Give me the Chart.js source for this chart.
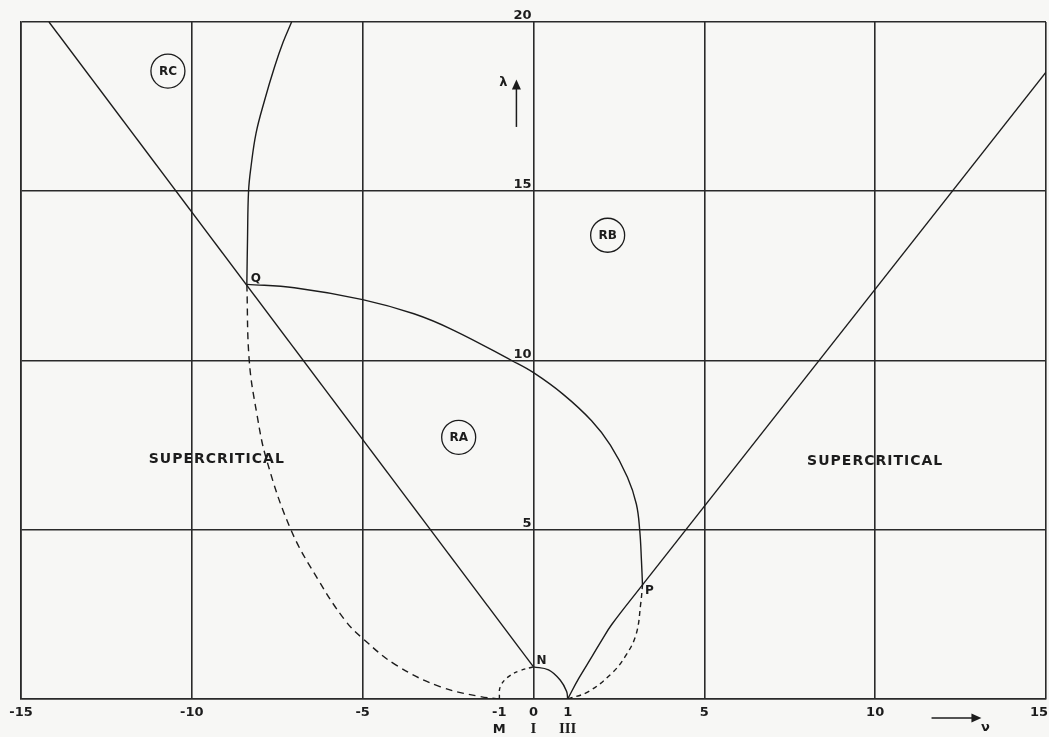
<!DOCTYPE html>
<html>
<head>
<meta charset="utf-8">
<script src="https://cdn.jsdelivr.net/npm/chart.js@4.4.1/dist/chart.umd.min.js"></script>
<style>
  html, body { margin: 0; padding: 0; background: #f7f7f5; }
  #wrap { width: 1049px; height: 737px; }
</style>
</head>
<body>
<div id="wrap"><canvas id="myChart" width="1049" height="737"></canvas></div>
<script>
// tick labels
const vTicks = [-15, -10, -5, -1, 0, 1, 5, 10, 15];
const lambdaTicks = [5, 10, 15, 20];
const rootTicks = [-1, 0, 1];
const rootNames = ['M', 'I', 'III'];

// boundary curves (v, λ)
const lineNQ_v = [-14.18, 0];
const lineNQ_l = [20, 0.95];

const upperQ_v = [-8.39, -8.37, -8.34, -8.27, -8.12, -7.87, -7.58, -7.33, -7.08];
const upperQ_l = [12.25, 13.6, 15.0, 15.71, 16.72, 17.69, 18.67, 19.4, 20.0];

const arcQP_v = [-8.39, -7.0, -5.0, -3.5, -2.35, -0.64, 0, 0.87, 1.7, 2.25, 2.75, 3.01, 3.11, 3.16, 3.19];
const arcQP_l = [12.25, 12.15, 11.8, 11.38, 10.9, 10.0, 9.64, 9.0, 8.22, 7.5, 6.55, 5.76, 4.97, 4.08, 3.37];

const dashQM_v = [-8.39, -8.32, -8.10, -7.81, -7.10, -6.30, -5.52, -5.0, -4.02, -2.72, -1.55, -1.0];
const dashQM_l = [12.25, 10.0, 8.44, 7.06, 5.0, 3.52, 2.33, 1.79, 1.0, 0.36, 0.07, 0];

const dotMN_v = [-1.0, -0.97, -0.73, -0.39, 0];
const dotMN_l = [0, 0.37, 0.66, 0.84, 0.95];

const arcN1_v = [0, 0.44, 0.78, 0.97, 1.0];
const arcN1_l = [0.95, 0.86, 0.56, 0.22, 0];

const curve1P_v = [1.0, 1.32, 1.71, 2.0, 2.29, 3.19];
const curve1P_l = [0, 0.6, 1.25, 1.74, 2.2, 3.37];

const lineP_v = [3.19, 15.0];
const lineP_l = [3.37, 18.52];

const dash1P_v = [1.0, 1.61, 2.29, 2.68, 3.0, 3.14, 3.19];
const dash1P_l = [0, 0.22, 0.76, 1.25, 1.9, 2.83, 3.37];

// region and point labels
const regionNames = ['RC', 'RB', 'RA'];
const regionV = [-10.7, 2.17, -2.19];
const regionL = [18.55, 13.7, 7.73];

const zoneNames = ['SUPERCRITICAL', 'SUPERCRITICAL'];
const zoneV = [-9.27, 10.0];
const zoneL = [7.09, 7.03];

const pointNames = ['Q', 'P', 'N'];
const pointV = [-8.39, 3.19, 0];
const pointL = [12.25, 3.37, 0.95];
const pointOffset = [[9, -5], [7, 6], [8, -6]];

const ink = '#1c1c1c';
const paper = '#f7f7f5';

const pts = (vs, ls) => vs.map((v, i) => ({ x: v, y: ls[i] }));

const curves = [
  { v: lineNQ_v, l: lineNQ_l, dash: [], smooth: false },
  { v: upperQ_v, l: upperQ_l, dash: [], smooth: true },
  { v: arcQP_v, l: arcQP_l, dash: [], smooth: true },
  { v: dashQM_v, l: dashQM_l, dash: [7, 5], smooth: true },
  { v: dotMN_v, l: dotMN_l, dash: [4, 4], smooth: true },
  { v: arcN1_v, l: arcN1_l, dash: [], smooth: true },
  { v: curve1P_v, l: curve1P_l, dash: [], smooth: true },
  { v: lineP_v, l: lineP_l, dash: [], smooth: false },
  { v: dash1P_v, l: dash1P_l, dash: [5, 4], smooth: true }
];

const datasets = curves.map(c => ({
  data: pts(c.v, c.l),
  showLine: true,
  pointRadius: 0,
  borderColor: ink,
  borderWidth: 1.4,
  borderDash: c.dash,
  fill: false,
  tension: c.smooth ? 0.4 : 0
}));

const paperPlugin = {
  id: 'paper',
  beforeDraw(chart) {
    const ctx = chart.ctx;
    ctx.save();
    ctx.fillStyle = paper;
    ctx.fillRect(0, 0, chart.width, chart.height);
    ctx.restore();
  }
};

function arrowHead(ctx, tx, ty, dx, dy) {
  // filled triangle pointing along (dx, dy)
  const len = 10, half = 4.5;
  const bx = tx - dx * len, by = ty - dy * len;
  ctx.beginPath();
  ctx.moveTo(tx, ty);
  ctx.lineTo(bx - dy * half, by + dx * half);
  ctx.lineTo(bx + dy * half, by - dx * half);
  ctx.closePath();
  ctx.fill();
}

const labelsPlugin = {
  id: 'labels',
  afterDraw(chart) {
    const { ctx, chartArea } = chart;
    const x = chart.scales.x, y = chart.scales.y;
    ctx.save();
    ctx.fillStyle = ink;
    ctx.strokeStyle = ink;

    // λ ticks beside the v = 0 axis
    ctx.font = 'bold 13px "DejaVu Sans"';
    ctx.textAlign = 'right';
    ctx.textBaseline = 'alphabetic';
    lambdaTicks.forEach(t => ctx.fillText(String(t), x.getPixelForValue(0) - 2, y.getPixelForValue(t) - 3));

    // v ticks under the base line, kept inside the canvas
    ctx.textAlign = 'center';
    vTicks.forEach(t => {
      const s = String(t);
      const half = ctx.measureText(s).width / 2;
      const px = Math.min(Math.max(x.getPixelForValue(t), half + 2), chart.width - half - 1);
      ctx.fillText(s, px, chartArea.bottom + 17);
    });

    // root names
    rootTicks.forEach((t, i) => {
      ctx.font = rootNames[i] === 'M' ? 'bold 13px "DejaVu Sans"' : 'bold 15px "Liberation Serif"';
      ctx.fillText(rootNames[i], x.getPixelForValue(t), chartArea.bottom + 34);
    });

    // circled region names
    ctx.font = 'bold 12px "DejaVu Sans"';
    ctx.textBaseline = 'middle';
    ctx.lineWidth = 1.3;
    regionNames.forEach((n, i) => {
      const px = x.getPixelForValue(regionV[i]), py = y.getPixelForValue(regionL[i]);
      ctx.beginPath();
      ctx.arc(px, py, 17, 0, Math.PI * 2);
      ctx.fillStyle = paper;
      ctx.fill();
      ctx.stroke();
      ctx.fillStyle = ink;
      ctx.fillText(n, px, py + 1);
    });

    // zone names
    ctx.font = 'bold 14px "DejaVu Sans"';
    if ('letterSpacing' in ctx) ctx.letterSpacing = '1px';
    zoneNames.forEach((n, i) => {
      ctx.fillText(n, x.getPixelForValue(zoneV[i]), y.getPixelForValue(zoneL[i]));
    });
    if ('letterSpacing' in ctx) ctx.letterSpacing = '0px';

    // point names
    ctx.font = 'bold 12px "DejaVu Sans"';
    pointNames.forEach((n, i) => {
      ctx.fillText(n, x.getPixelForValue(pointV[i]) + pointOffset[i][0], y.getPixelForValue(pointL[i]) + pointOffset[i][1]);
    });

    // λ arrow
    const ax = x.getPixelForValue(-0.5);
    const ay0 = y.getPixelForValue(16.9), ay1 = y.getPixelForValue(18.3);
    ctx.lineWidth = 1.5;
    ctx.beginPath();
    ctx.moveTo(ax, ay0);
    ctx.lineTo(ax, ay1 + 6);
    ctx.stroke();
    arrowHead(ctx, ax, ay1, 0, -1);
    ctx.font = 'bold 13px "DejaVu Sans"';
    ctx.fillText('λ', x.getPixelForValue(-0.88), y.getPixelForValue(18.22));

    // v arrow
    const vy = chartArea.bottom + 19;
    const vx0 = x.getPixelForValue(11.65), vx1 = x.getPixelForValue(13.11);
    ctx.beginPath();
    ctx.moveTo(vx0, vy);
    ctx.lineTo(vx1 - 6, vy);
    ctx.stroke();
    arrowHead(ctx, vx1, vy, 1, 0);
    ctx.fillText('ν', vx1 + 4, vy + 10);

    ctx.restore();
  }
};

const ctx = document.getElementById('myChart');
new Chart(ctx, {
  type: 'scatter',
  data: { datasets },
  options: {
    responsive: false,
    animation: false,
    layout: { padding: { left: 21, top: 22, right: 3, bottom: 38 } },
    plugins: { legend: { display: false }, tooltip: { enabled: false } },
    scales: {
      x: {
        type: 'linear', min: -15, max: 15,
        ticks: { display: false, stepSize: 5 },
        grid: { color: '#2a2a2a', lineWidth: 1.6, drawTicks: false },
        border: { color: '#2a2a2a', width: 1.6 }
      },
      y: {
        type: 'linear', min: 0, max: 20,
        ticks: { display: false, stepSize: 5 },
        grid: { color: '#2a2a2a', lineWidth: 1.6, drawTicks: false },
        border: { color: '#2a2a2a', width: 1.6 }
      }
    }
  },
  plugins: [paperPlugin, labelsPlugin]
});
</script>
</body>
</html>
